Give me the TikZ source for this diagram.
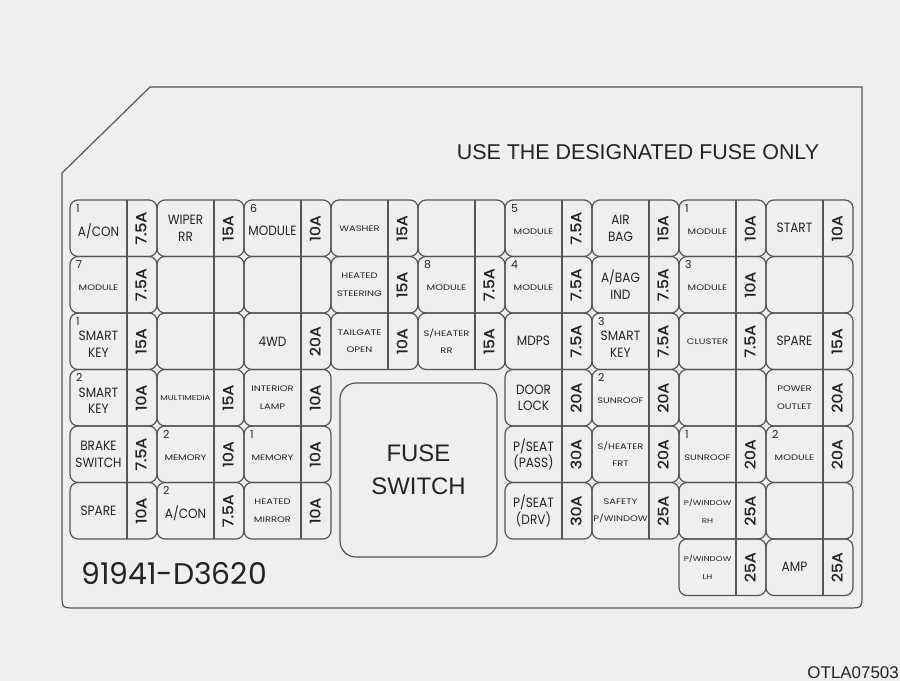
\documentclass[tikz,border=0pt]{standalone}
\usepackage{fontspec}
\newfontfamily\pop{Poppins}
\newfontfamily\popn[FakeStretch=0.9]{Poppins}
\newfontfamily\popw[FakeStretch=1.25]{Poppins}
\newfontfamily\popa[FakeStretch=1.1,FakeBold=1.2]{Poppins}
\newfontfamily\lib{Liberation Sans}
\definecolor{bgc}{RGB}{239,239,239}
\definecolor{lnc}{RGB}{85,85,85}
\definecolor{txc}{RGB}{35,35,35}
\tikzset{
  panel/.style={draw=lnc, line width=1.2bp},
  cell/.style={draw=lnc, line width=1.2bp, rounded corners=8bp},
  divl/.style={draw=lnc, line width=1.2bp},
  bigl/.style={font=\popn\fontsize{13.5}{16.5}\selectfont, align=center, text=txc, inner sep=0pt},
  smll/.style={font=\popw\fontsize{8}{17.5}\selectfont, align=center, text=txc, inner sep=0pt},
  tinyl/.style={font=\popw\fontsize{7}{18}\selectfont, align=center, text=txc, inner sep=0pt},
  ampt/.style={font=\popa\fontsize{14.5}{16}\selectfont, rotate=90, text=txc, inner sep=0pt},
  numt/.style={font=\pop\fontsize{11}{12}\selectfont, anchor=north west, inner sep=0pt, text=txc},
  bigtext/.style={text=txc, inner sep=0pt}
}
\newcommand\fusecell[6]{%
  \pgfmathsetmacro\fL{70+87*(#1-1)}%
  \pgfmathsetmacro\fT{200+56.5*(#2-1)}%
  \pgfmathsetmacro\fR{\fL+87}%
  \pgfmathsetmacro\fB{\fT+56.5}%
  \pgfmathsetmacro\fD{\fL+57}%
  \pgfmathsetmacro\fX{(\fL+\fD)/2}%
  \pgfmathsetmacro\fA{\fD+14}%
  \pgfmathsetmacro\fM{(\fT+\fB)/2}%
  \if\relax\detokenize{#3}\relax
    \pgfmathsetmacro\fY{\fM}%
  \else
    \pgfmathsetmacro\fY{\fM+3}%
  \fi
  \draw[cell] (\fL,\fT) rectangle (\fR,\fB);
  \draw[divl] (\fD,\fT) -- (\fD,\fB);
  \node[#5] (lab#1#2) at (\fX,\fY) {#4};
  \node[ampt] (amp#1#2) at (\fA,\fM) {#6};
  \if\relax\detokenize{#3}\relax\else
    \node[numt] (num#1#2) at (\fL+6,\fT+4) {#3};
  \fi
}
\begin{document}
\begin{tikzpicture}[x=1bp,y=-1bp]
\fill[bgc] (0,0) rectangle (900,681);
\useasboundingbox (0,0) rectangle (900,681);
% panel outline
\draw[panel] (62,173) -- (150,87) -- (862,87) -- (862,594)
  .. controls (862,608) .. (848,608) -- (76,608)
  .. controls (62,608) .. (62,594) -- cycle;
\node[bigtext, font=\lib\fontsize{21.5}{24}\selectfont] (hdr) at (638,152) {USE THE DESIGNATED FUSE ONLY};
% row 1
\fusecell{1}{1}{1}{A/CON}{bigl}{7.5A}
\fusecell{2}{1}{}{WIPER\\RR}{bigl}{15A}
\fusecell{3}{1}{6}{MODULE}{bigl}{10A}
\fusecell{4}{1}{}{WASHER}{smll}{15A}
\fusecell{5}{1}{}{}{smll}{}
\fusecell{6}{1}{5}{MODULE}{smll}{7.5A}
\fusecell{7}{1}{}{AIR\\BAG}{bigl}{15A}
\fusecell{8}{1}{1}{MODULE}{smll}{10A}
\fusecell{9}{1}{}{START}{bigl}{10A}
% row 2
\fusecell{1}{2}{7}{MODULE}{smll}{7.5A}
\fusecell{2}{2}{}{}{smll}{}
\fusecell{3}{2}{}{}{smll}{}
\fusecell{4}{2}{}{HEATED\\STEERING}{smll}{15A}
\fusecell{5}{2}{8}{MODULE}{smll}{7.5A}
\fusecell{6}{2}{4}{MODULE}{smll}{7.5A}
\fusecell{7}{2}{}{A/BAG\\IND}{bigl}{7.5A}
\fusecell{8}{2}{3}{MODULE}{smll}{10A}
\fusecell{9}{2}{}{}{smll}{}
% row 3
\fusecell{1}{3}{1}{SMART\\KEY}{bigl}{15A}
\fusecell{2}{3}{}{}{smll}{}
\fusecell{3}{3}{}{4WD}{bigl}{20A}
\fusecell{4}{3}{}{TAILGATE\\OPEN}{smll}{10A}
\fusecell{5}{3}{}{S/HEATER\\RR}{smll}{15A}
\fusecell{6}{3}{}{MDPS}{bigl}{7.5A}
\fusecell{7}{3}{3}{SMART\\KEY}{bigl}{7.5A}
\fusecell{8}{3}{}{CLUSTER}{smll}{7.5A}
\fusecell{9}{3}{}{SPARE}{bigl}{15A}
% row 4
\fusecell{1}{4}{2}{SMART\\KEY}{bigl}{10A}
\fusecell{2}{4}{}{MULTIMEDIA}{tinyl}{15A}
\fusecell{3}{4}{}{INTERIOR\\LAMP}{smll}{10A}
\fusecell{6}{4}{}{DOOR\\LOCK}{bigl}{20A}
\fusecell{7}{4}{2}{SUNROOF}{smll}{20A}
\fusecell{8}{4}{}{}{smll}{}
\fusecell{9}{4}{}{POWER\\OUTLET}{smll}{20A}
% row 5
\fusecell{1}{5}{}{BRAKE\\SWITCH}{bigl}{7.5A}
\fusecell{2}{5}{2}{MEMORY}{smll}{10A}
\fusecell{3}{5}{1}{MEMORY}{smll}{10A}
\fusecell{6}{5}{}{P/SEAT\\(PASS)}{bigl}{30A}
\fusecell{7}{5}{}{S/HEATER\\FRT}{smll}{20A}
\fusecell{8}{5}{1}{SUNROOF}{smll}{20A}
\fusecell{9}{5}{2}{MODULE}{smll}{20A}
% row 6
\fusecell{1}{6}{}{SPARE}{bigl}{10A}
\fusecell{2}{6}{2}{A/CON}{bigl}{7.5A}
\fusecell{3}{6}{}{HEATED\\MIRROR}{smll}{10A}
\fusecell{6}{6}{}{P/SEAT\\(DRV)}{bigl}{30A}
\fusecell{7}{6}{}{SAFETY\\P/WINDOW}{smll}{25A}
\fusecell{8}{6}{}{P/WINDOW\\RH}{tinyl}{25A}
\fusecell{9}{6}{}{}{smll}{}
% row 7
\fusecell{8}{7}{}{P/WINDOW\\LH}{tinyl}{25A}
\fusecell{9}{7}{}{AMP}{bigl}{25A}
% fuse switch
\node[draw=lnc, line width=1.2bp, rounded corners=16bp, minimum width=157bp, minimum height=174bp,
      align=center, text=txc, font=\lib\fontsize{24}{33.5}\selectfont] (fsw) at (418.5,470) {FUSE\\SWITCH};
% part number
\node[bigtext, font=\pop\fontsize{30}{32}\selectfont, anchor=west] (pn) at (81,574) {91941-D3620};
% figure code
\node[bigtext, font=\lib\fontsize{17}{19}\selectfont, anchor=base east] (code) at (899,678) {OTLA07503};
\end{tikzpicture}
\end{document}
